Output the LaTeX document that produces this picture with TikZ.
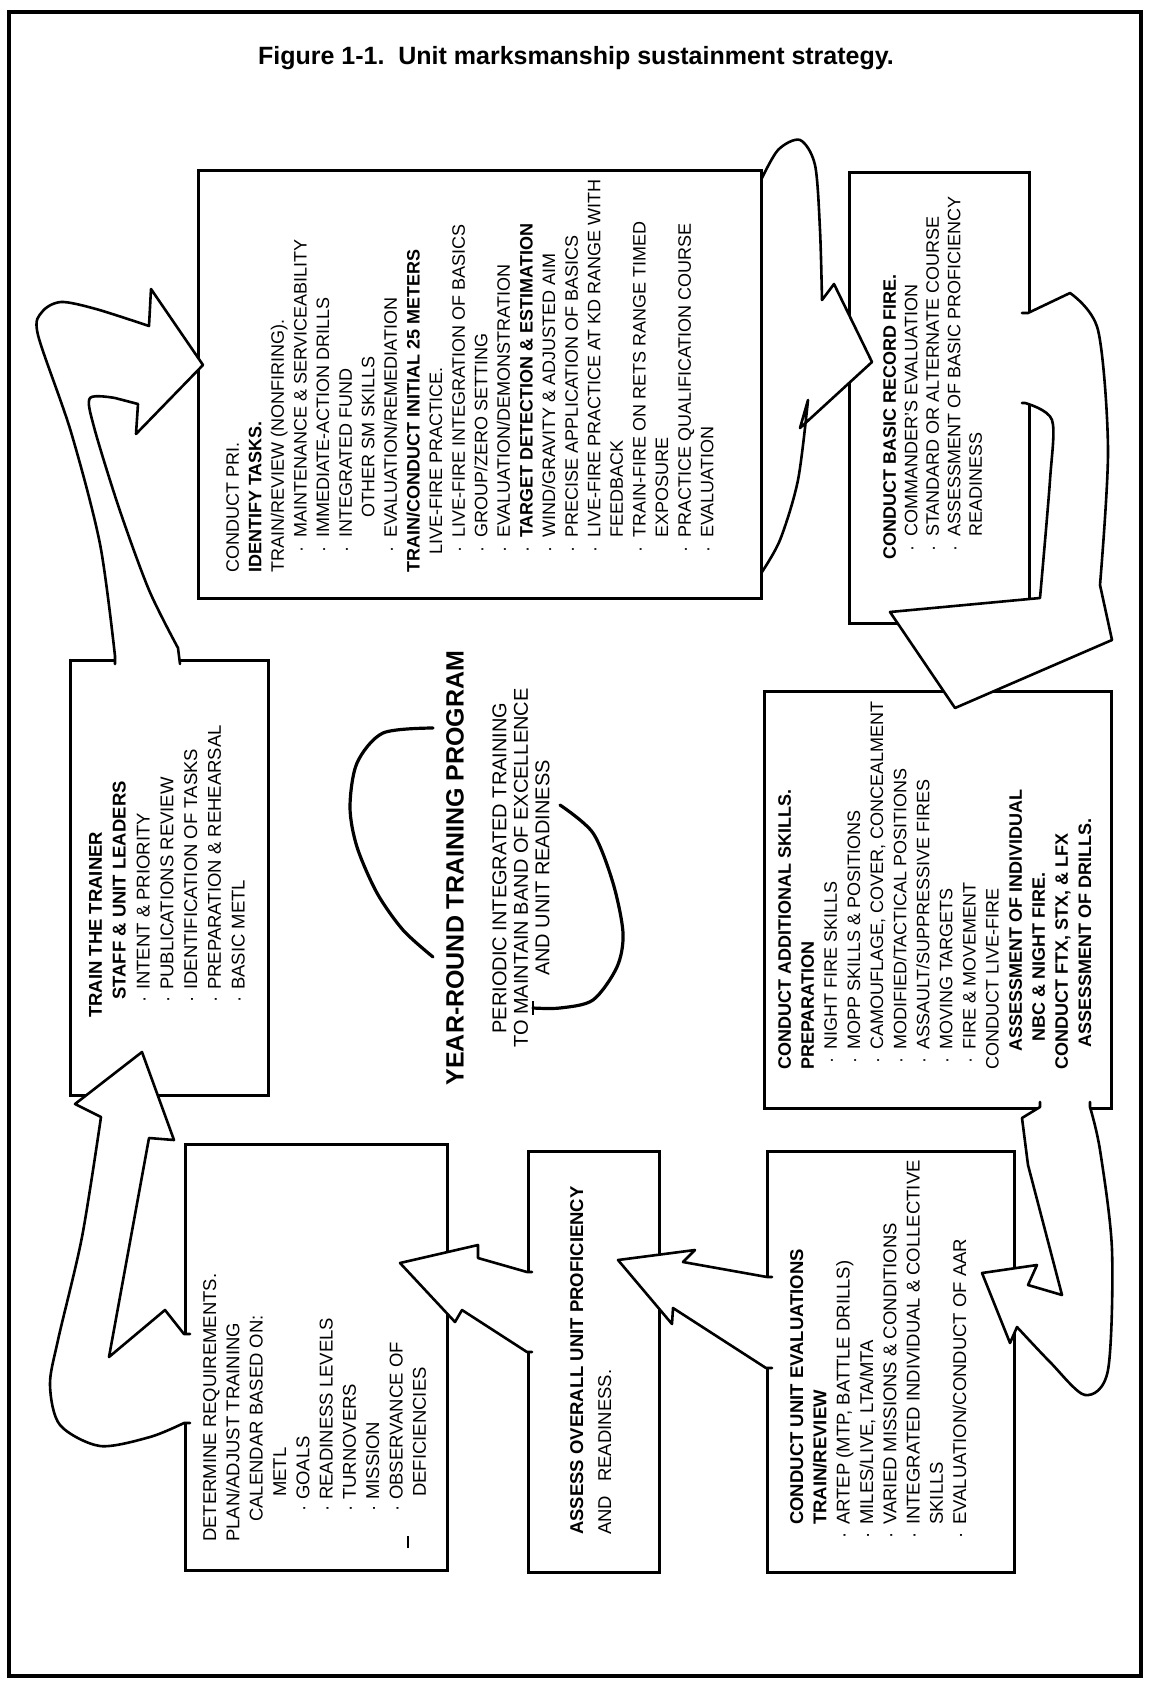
\documentclass[tikz,border=0pt]{standalone}
\usepackage{fontspec}
\setmainfont{Liberation Sans}
\newcommand\bx[2]{\hspace*{#1}\makebox[#2][l]{·}}
\newcommand\ind[1]{\hspace*{#1}}
\begin{document}
\begin{tikzpicture}[x=1pt,y=-1pt,
  box/.style={draw, line width=3pt, fill=white, inner sep=0pt, anchor=north west},
  txt/.style={rotate=90, anchor=north west, inner sep=0pt, align=left},
  blkline/.style={line width=2.6pt, line join=round, line cap=round},
  arcline/.style={line width=3.2pt, line cap=round}]
\useasboundingbox (0,0) rectangle (1150,1684);
\draw[line width=4pt] (9,12) rectangle (1141,1676);
\node[font=\fontsize{25}{28}\selectfont\bfseries] (title) at (576,58) {Figure 1-1.\ \ Unit marksmanship sustainment strategy.};

% boxes (PRI drawn after arrow G)
\node[box, minimum width=180pt, minimum height=451pt] (rec) at (848,171) {};
\node[box, minimum width=347pt, minimum height=417pt] (add) at (763,690) {};
\node[box, minimum width=247pt, minimum height=421pt] (uev) at (766,1150) {};
\node[box, minimum width=131pt, minimum height=421pt] (ass) at (527,1150) {};
\node[box, minimum width=262pt, minimum height=426pt] (det) at (184,1143) {};
\node[box, minimum width=198pt, minimum height=435pt] (ttt) at (69,659) {};

% G: PRI -> record fire
\def\arrG{(756,182) -- (760,182) -- plot[smooth] coordinates {(760,182) (778,150) (800,140) (815,165) (820,230) (822,300)} -- (834,284) -- (872,362) -- (800,428) -- (808,400) -- plot[smooth] coordinates {(808,400) (798,480) (780,540) (760,575)} -- (756,575)}
\fill[white] \arrG -- cycle; \draw[blkline] \arrG;
\node[box, minimum width=563pt, minimum height=428pt] (pri) at (197,169) {};

% block arrows
% A: train the trainer -> PRI
\def\arrA{(115,664) -- plot[smooth] coordinates {(115,656) (100,544) (71,432) (38,335) (42,312) (61,302) (96,309) (149,326)} -- (151,289) -- (203,365) -- (136,434) -- (138,404) -- plot[smooth] coordinates {(115,398) (90,398) (94,427) (119,508) (149,590) (178,648)} -- (180,664)}
\fill[white] \arrA -- cycle; \draw[blkline] \arrA;
% B: determine -> train the trainer
\def\arrB{(190,1334) -- (184,1334) -- (165,1310) -- (109,1357) -- (149,1138) -- (174,1140) -- (142,1052) -- (75,1104) -- (101,1117) -- plot[smooth] coordinates {(101,1117) (82,1237) (58,1340) (50,1385) (60,1425) (100,1446) (150,1437) (184,1423)} -- (190,1423)}
\fill[white] \arrB -- cycle; \draw[blkline] \arrB;
% C: assess -> determine
\def\arrC{(532,1272) -- (527,1272) -- (478,1258) -- (478,1245) -- (400,1263) -- (455,1322) -- (462,1310) -- (527,1352) -- (532,1352)}
\fill[white] \arrC -- cycle; \draw[blkline] \arrC;
% D: unit evaluations -> assess
\def\arrD{(772,1277) -- (767,1277) -- (683,1262) -- (695,1250) -- (618,1260) -- (672,1324) -- (673,1308) -- (766,1368) -- (772,1368)}
\fill[white] \arrD -- cycle; \draw[blkline] \arrD;
% E: additional skills -> unit evaluations
\def\arrE{(1040,1102) -- (1040,1107) -- (1022,1118) -- (1028,1165) -- (1062,1295) -- (1028,1285) -- (1037,1265) -- (982,1273) -- (1010,1343) -- (1017,1327) -- plot[smooth] coordinates {(1017,1327) (1050,1362) (1085,1395) (1108,1370) (1112,1250) (1100,1150) (1090,1107)} -- (1090,1102)}
\fill[white] \arrE -- cycle; \draw[blkline] \arrE;
% F: record fire -> additional skills
\def\arrF{(1022,313) -- (1028,313) -- plot[smooth] coordinates {(1070,293) (1098,330) (1108,450) (1100,585)} -- (1112,640) -- (955,708) -- (890,612) -- (1040,598) -- plot[smooth] coordinates {(1040,598) (1050,480) (1052,420) (1025,403)} -- (1022,403)}
\fill[white] \arrF -- cycle; \draw[blkline] \arrF;

% texts
\node[txt, font=\fontsize{18}{22.6}\selectfont] (tpri) at (226,573) {CONDUCT PRI.\\
\textbf{IDENTIFY TASKS.}\\
TRAIN/REVIEW (NONFIRING).\\
\bx{20pt}{15pt}MAINTENANCE \& SERVICEABILITY\\
\bx{20pt}{15pt}IMMEDIATE-ACTION DRILLS\\
\bx{20pt}{15pt}INTEGRATED FUND\\
\ind{55pt}OTHER SM SKILLS\\
\bx{20pt}{15pt}EVALUATION/REMEDIATION\\
\textbf{TRAIN/CONDUCT INITIAL 25 METERS}\\
\ind{18pt}LIVE-FIRE PRACTICE.\\
\bx{20pt}{15pt}LIVE-FIRE INTEGRATION OF BASICS\\
\bx{20pt}{15pt}GROUP/ZERO SETTING\\
\bx{20pt}{15pt}EVALUATION/DEMONSTRATION\\
\bx{20pt}{15pt}\textbf{TARGET DETECTION \& ESTIMATION}\\
\bx{20pt}{15pt}WIND/GRAVITY \& ADJUSTED AIM\\
\bx{20pt}{15pt}PRECISE APPLICATION OF BASICS\\
\bx{20pt}{15pt}LIVE-FIRE PRACTICE AT KD RANGE WITH\\
\ind{35pt}FEEDBACK\\
\bx{20pt}{15pt}TRAIN-FIRE ON RETS RANGE TIMED\\
\ind{35pt}EXPOSURE\\
\bx{20pt}{15pt}PRACTICE QUALIFICATION COURSE\\
\bx{20pt}{15pt}EVALUATION};

\node[txt, font=\fontsize{18}{21.5}\selectfont] (trec) at (883,560) {\textbf{CONDUCT BASIC RECORD FIRE.}\\
\bx{8pt}{15pt}COMMANDER'S EVALUATION\\
\bx{8pt}{15pt}STANDARD OR ALTERNATE COURSE\\
\bx{8pt}{15pt}ASSESSMENT OF BASIC PROFICIENCY\\
\ind{23pt}READINESS};

\node[txt, font=\fontsize{18}{23.1}\selectfont] (tadd) at (778,1070) {\textbf{CONDUCT ADDITIONAL SKILLS.}\\
\textbf{PREPARATION}\\
\bx{6pt}{14pt}NIGHT FIRE SKILLS\\
\bx{6pt}{14pt}MOPP SKILLS \& POSITIONS\\
\bx{6pt}{14pt}CAMOUFLAGE, COVER, CONCEALMENT\\
\bx{6pt}{14pt}MODIFIED/TACTICAL POSITIONS\\
\bx{6pt}{14pt}ASSAULT/SUPPRESSIVE FIRES\\
\bx{6pt}{14pt}MOVING TARGETS\\
\bx{6pt}{14pt}FIRE \& MOVEMENT\\
CONDUCT LIVE-FIRE\\
\ind{18pt}\textbf{ASSESSMENT OF INDIVIDUAL}\\
\ind{28pt}\textbf{NBC \& NIGHT FIRE.}\\
\textbf{CONDUCT FTX, STX, \& LFX}\\
\ind{22pt}\textbf{ASSESSMENT OF DRILLS.}};

\node[txt, font=\fontsize{18.5}{23.3}\selectfont] (tuev) at (790,1525) {\textbf{CONDUCT UNIT EVALUATIONS}\\
\textbf{TRAIN/REVIEW}\\
\llap{·\hspace{8pt}}ARTEP (MTP, BATTLE DRILLS)\\
\llap{·\hspace{8pt}}MILES/LIVE, LTA/MTA\\
\llap{·\hspace{8pt}}VARIED MISSIONS \& CONDITIONS\\
\llap{·\hspace{8pt}}INTEGRATED INDIVIDUAL \& COLLECTIVE\\
SKILLS\\
\llap{·\hspace{8pt}}EVALUATION/CONDUCT OF AAR};

\node[txt, font=\fontsize{18.5}{28}\selectfont] (tass) at (570,1535) {\textbf{ASSESS OVERALL UNIT PROFICIENCY}\\
AND\hspace{14pt}READINESS.};

\node[txt, font=\fontsize{18.5}{23.3}\selectfont] (tdet) at (203,1542) {DETERMINE REQUIREMENTS.\\
PLAN/ADJUST TRAINING\\
\ind{20pt}CALENDAR BASED ON:\\
\ind{45pt}METL\\
\bx{30pt}{12pt}GOALS\\
\bx{30pt}{12pt}READINESS LEVELS\\
\bx{30pt}{12pt}TURNOVERS\\
\bx{30pt}{12pt}MISSION\\
\bx{30pt}{12pt}OBSERVANCE OF\\
\ind{45pt}DEFICIENCIES};
\draw[line width=2pt] (408,1536) -- (408,1548);

\node[txt, font=\fontsize{18.5}{23.8}\selectfont] (tttt) at (89,1018) {\textbf{TRAIN THE TRAINER}\\
\ind{18pt}\textbf{STAFF \& UNIT LEADERS}\\
\bx{15pt}{13pt}INTENT \& PRIORITY\\
\bx{15pt}{13pt}PUBLICATIONS REVIEW\\
\bx{15pt}{13pt}IDENTIFICATION OF TASKS\\
\bx{15pt}{13pt}PREPARATION \& REHEARSAL\\
\bx{15pt}{13pt}BASIC METL};

% center
\node[rotate=90, inner sep=0pt, font=\fontsize{25}{28}\selectfont\bfseries] (year) at (455,868) {YEAR-ROUND TRAINING PROGRAM};
\node[rotate=90, inner sep=0pt, align=center, font=\fontsize{20}{21.5}\selectfont] (peri) at (521,868) {PERIODIC INTEGRATED TRAINING\\TO MAINTAIN BAND OF EXCELLENCE\\AND UNIT READINESS};
\draw[arcline] plot[smooth] coordinates {(433,728) (383,733) (357,763) (350,807) (357,847) (377,893) (403,930) (433,957)};
\draw[arcline] plot[smooth] coordinates {(560,805) (593,833) (613,883) (623,933) (617,967) (593,1000) (560,1008) (533,1008)};
\draw[line width=2.5pt] (533,1001) -- (533,1015);
\end{tikzpicture}
\end{document}
